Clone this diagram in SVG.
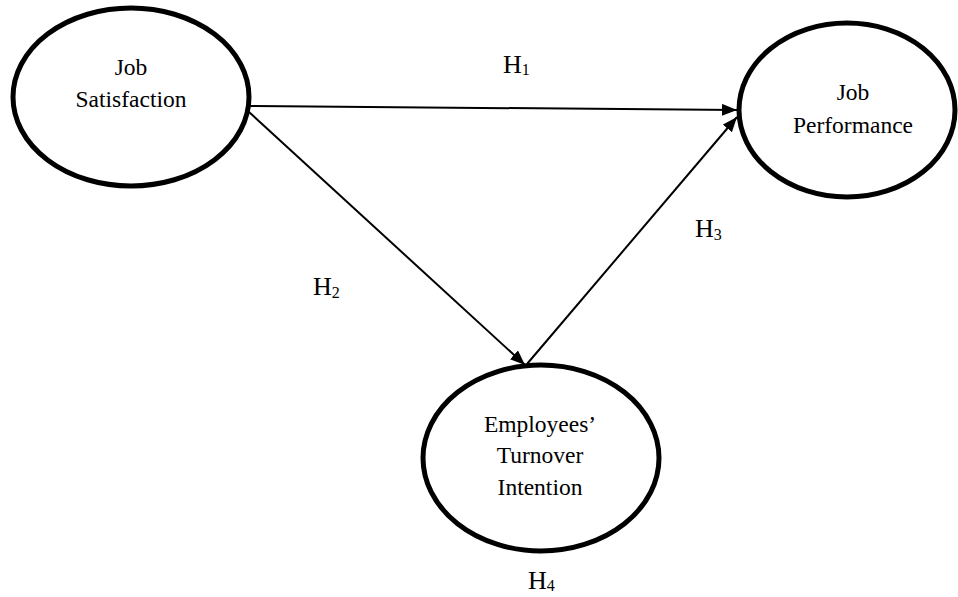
<svg xmlns="http://www.w3.org/2000/svg" width="958" height="597" viewBox="0 0 958 597">
<style>
.node{fill:#fff;stroke:#000;stroke-width:5}
.lbl{font-family:"Liberation Serif","Times New Roman",serif;font-size:23.5px;fill:#000;text-anchor:middle}
.h{font-family:"Liberation Serif","Times New Roman",serif;font-size:26px;fill:#000}
.sub{font-size:16px}
.edge{stroke:#000;stroke-width:2;fill:none;marker-end:url(#arr)}
</style>
<defs>
<marker id="arr" markerUnits="userSpaceOnUse" markerWidth="16" markerHeight="12" refX="15" refY="6" orient="auto">
<path d="M0,0 L15,6 L0,12 z" fill="#000"/>
</marker>
</defs>
<rect width="958" height="597" fill="#fff"/>
<g id="connectors">
<line class="edge" x1="249" y1="106" x2="737" y2="110"/>
<line class="edge" x1="249" y1="112" x2="525" y2="365"/>
<line class="edge" x1="527" y1="364" x2="737" y2="117"/>
</g>
<g id="job-satisfaction">
<ellipse class="node" cx="131" cy="97" rx="118" ry="89"/>
<text class="lbl" x="131" y="75">Job</text>
<text class="lbl" x="131" y="107">Satisfaction</text>
</g>
<g id="job-performance">
<ellipse class="node" cx="847" cy="110" rx="108" ry="87"/>
<text class="lbl" x="853" y="100">Job</text>
<text class="lbl" x="853" y="133">Performance</text>
</g>
<g id="turnover-intention">
<ellipse class="node" cx="541" cy="458" rx="118" ry="93"/>
<text class="lbl" x="540" y="432">Employees’</text>
<text class="lbl" x="540" y="463">Turnover</text>
<text class="lbl" x="540" y="495">Intention</text>
</g>
<g id="labels">
<text class="h" x="503" y="73">H<tspan class="sub" dy="2">1</tspan></text>
<text class="h" x="313" y="295">H<tspan class="sub" dy="3">2</tspan></text>
<text class="h" x="695" y="237">H<tspan class="sub" dy="3">3</tspan></text>
<text class="h" x="528" y="589">H<tspan class="sub" dy="2">4</tspan></text>
</g>
</svg>
